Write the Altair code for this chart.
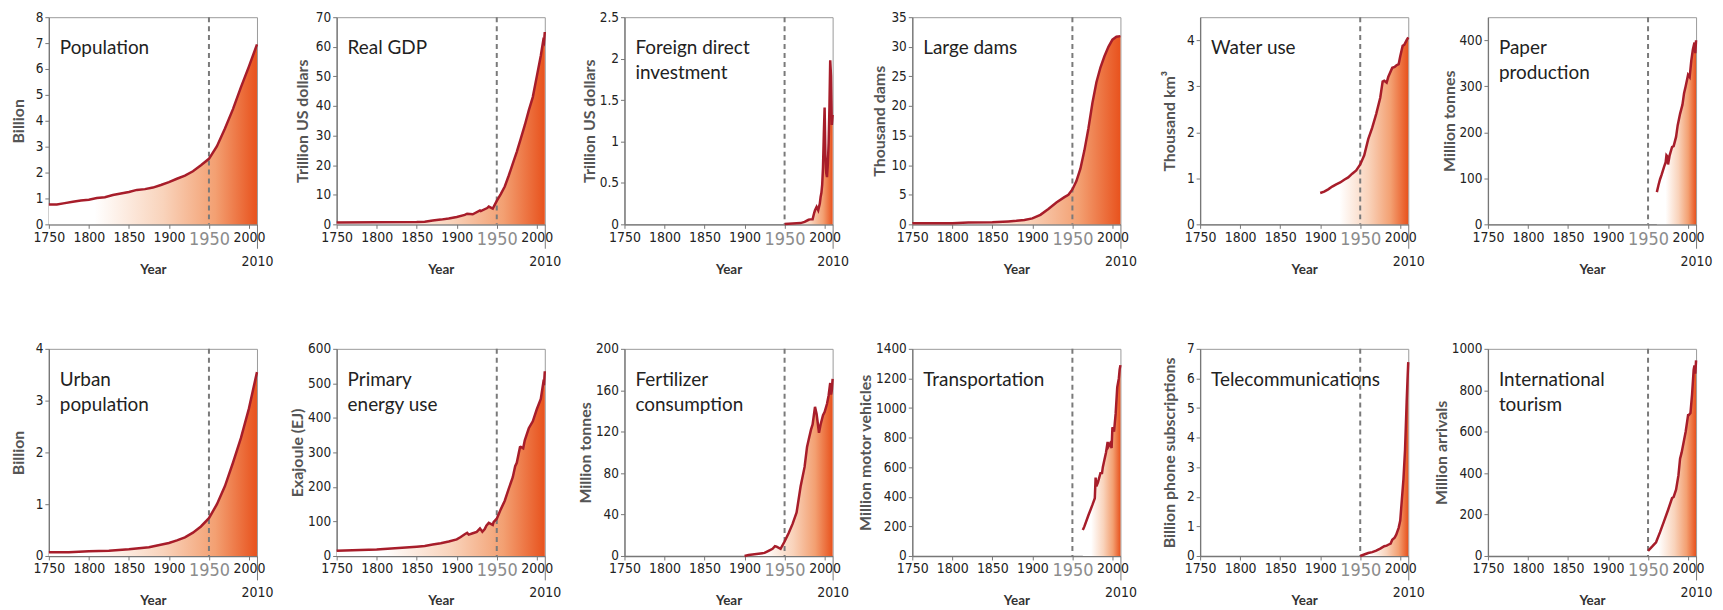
import altair as alt
import pandas as pd

# ---------------- data ----------------
titles = ["Population", "Real GDP", "Foreign direct\ninvestment", "Large dams", "Water use",
          "Paper\nproduction", "Urban\npopulation", "Primary\nenergy use", "Fertilizer\nconsumption",
          "Transportation", "Telecommunications", "International\ntourism"]
y_titles = ["Billion", "Trillion US dollars", "Trillion US dollars", "Thousand dams", "Thousand km³",
            "Million tonnes", "Billion", "Exajoule (EJ)", "Million tonnes", "Million motor vehicles",
            "Billion phone subscriptions", "Million arrivals"]
y_max = [8, 70, 2.5, 35, 4.5, 450, 4, 600, 200, 1400, 7, 1000]
y_ticks = [
    [0, 1, 2, 3, 4, 5, 6, 7, 8],
    [0, 10, 20, 30, 40, 50, 60, 70],
    [0, 0.5, 1, 1.5, 2, 2.5],
    [0, 5, 10, 15, 20, 25, 30, 35],
    [0, 1, 2, 3, 4],
    [0, 100, 200, 300, 400],
    [0, 1, 2, 3, 4],
    [0, 100, 200, 300, 400, 500, 600],
    [0, 40, 80, 120, 160, 200],
    [0, 200, 400, 600, 800, 1000, 1200, 1400],
    [0, 1, 2, 3, 4, 5, 6, 7],
    [0, 200, 400, 600, 800, 1000],
]
x_ticks = [1750, 1800, 1850, 1900, 1950, 2000, 2010]

pop_years = [1750, 1760, 1770, 1780, 1790, 1800, 1810, 1820, 1830, 1840, 1850, 1860, 1870, 1880,
             1890, 1900, 1910, 1920, 1930, 1940, 1950, 1960, 1970, 1980, 1990, 2000, 2010]
pop_values = [0.77, 0.77, 0.82, 0.87, 0.92, 0.95, 1.02, 1.05, 1.13, 1.19, 1.25, 1.33, 1.36, 1.42,
              1.52, 1.63, 1.76, 1.88, 2.05, 2.28, 2.53, 3.02, 3.70, 4.45, 5.30, 6.10, 6.95]

gdp_years = [1750, 1800, 1850, 1860, 1870, 1880, 1890, 1900, 1910, 1913, 1920, 1929, 1930, 1938,
             1940, 1945, 1950, 1955, 1960, 1965, 1970, 1975, 1980, 1985, 1990, 1995, 2000, 2005,
             2008, 2009, 2010]
gdp_values = [0.6, 0.7, 0.8, 0.9, 1.3, 1.6, 2.0, 2.5, 3.2, 3.6, 3.4, 4.7, 4.5, 5.5, 6.0, 5.3, 7.9,
              10.2, 12.8, 16.5, 20.5, 24.5, 29.0, 33.5, 38.5, 43.0, 50.0, 57.0, 62.0, 61.5, 65.0]

fdi_years = [1950, 1955, 1960, 1965, 1970, 1975, 1980, 1982, 1985, 1987, 1988, 1990, 1992, 1994,
             1995, 1996, 1997, 1998, 1999, 2000, 2001, 2002, 2003, 2004, 2005, 2006, 2007, 2008,
             2009, 2010]
fdi_values = [0.005, 0.008, 0.01, 0.012, 0.015, 0.03, 0.055, 0.06, 0.06, 0.14, 0.17, 0.21, 0.17,
              0.25, 0.33, 0.38, 0.48, 0.69, 1.08, 1.41, 0.83, 0.62, 0.57, 0.72, 0.98, 1.40, 1.98,
              1.79, 1.20, 1.32]

dam_years = [1750, 1800, 1820, 1850, 1870, 1880, 1890, 1900, 1910, 1920, 1930, 1940, 1945, 1950,
             1955, 1960, 1965, 1970, 1975, 1980, 1985, 1990, 1995, 2000, 2005, 2010]
dam_values = [0.2, 0.2, 0.3, 0.35, 0.5, 0.6, 0.75, 1.0, 1.6, 2.6, 3.7, 4.6, 5.0, 5.9, 7.3, 9.4,
              12.5, 16.2, 20.5, 24.0, 26.5, 28.4, 30.0, 31.2, 31.7, 31.8]

water_years = [1900, 1905, 1910, 1915, 1920, 1925, 1930, 1935, 1940, 1945, 1950, 1955, 1960, 1965,
               1970, 1975, 1978, 1980, 1983, 1985, 1990, 1993, 1995, 1998, 2000, 2003, 2005, 2008,
               2010]
water_values = [0.68, 0.71, 0.76, 0.82, 0.87, 0.91, 0.97, 1.02, 1.10, 1.17, 1.30, 1.50, 1.85,
                2.10, 2.40, 2.75, 3.10, 3.12, 3.08, 3.20, 3.40, 3.42, 3.45, 3.48, 3.65, 3.88,
                3.90, 4.00, 4.06]

paper_years = [1961, 1963, 1965, 1967, 1970, 1972, 1973, 1974, 1975, 1977, 1980, 1982, 1985, 1987,
               1990, 1993, 1995, 1997, 2000, 2002, 2004, 2006, 2008, 2009, 2010]
paper_values = [70, 85, 98, 108, 125, 135, 150, 148, 130, 150, 168, 170, 190, 215, 240, 260, 285,
                300, 325, 320, 355, 380, 395, 372, 400]

urban_years = [1750, 1775, 1800, 1825, 1850, 1875, 1900, 1910, 1920, 1930, 1940, 1950, 1960, 1970,
               1980, 1990, 2000, 2010]
urban_values = [0.07, 0.07, 0.09, 0.10, 0.13, 0.17, 0.25, 0.30, 0.36, 0.45, 0.57, 0.73, 1.00, 1.35,
                1.80, 2.28, 2.85, 3.55]

energy_years = [1750, 1800, 1850, 1860, 1870, 1880, 1890, 1900, 1905, 1910, 1913, 1915, 1920, 1925,
                1929, 1932, 1935, 1937, 1940, 1945, 1946, 1950, 1955, 1960, 1965, 1970, 1973, 1975,
                1979, 1980, 1983, 1985, 1990, 1995, 2000, 2005, 2008, 2009, 2010]
energy_values = [15, 19, 27, 29, 33, 37, 42, 48, 55, 63, 67, 62, 66, 70, 80, 70, 78, 88, 96, 90,
                 98, 108, 135, 160, 195, 228, 260, 270, 315, 316, 312, 335, 370, 390, 425, 455,
                 500, 495, 535]

fert_years = [1900, 1905, 1910, 1915, 1920, 1925, 1930, 1935, 1938, 1940, 1945, 1950, 1955, 1960,
              1965, 1970, 1975, 1978, 1980, 1983, 1985, 1988, 1990, 1993, 1995, 1998, 2000, 2003,
              2005, 2007, 2008, 2009, 2010]
fert_values = [0, 1, 1.5, 2, 2.5, 3, 5, 7, 9.5, 9, 7, 14, 22, 31, 42, 67, 86, 105, 112, 122, 127,
               144, 137, 119, 127, 136, 139, 147, 155, 167, 156, 160, 171]

trans_years = [1963, 1965, 1970, 1975, 1978, 1979, 1980, 1982, 1985, 1987, 1988, 1990, 1992, 1994,
               1995, 1997, 1999, 2000, 2002, 2004, 2006, 2008, 2009, 2010]
trans_values = [175, 200, 275, 345, 390, 530, 470, 500, 560, 560, 600, 650, 700, 770, 740, 760,
                730, 870, 840, 960, 1140, 1200, 1260, 1290]

tele_years = [1950, 1955, 1960, 1965, 1970, 1975, 1980, 1983, 1985, 1988, 1990, 1993, 1995, 1998,
              2000, 2002, 2004, 2006, 2008, 2009, 2010]
tele_values = [0, 0.05, 0.1, 0.13, 0.18, 0.25, 0.33, 0.35, 0.38, 0.42, 0.55, 0.62, 0.72, 0.95,
               1.2, 1.9, 2.6, 3.6, 5.2, 5.9, 6.55]

tour_years = [1950, 1955, 1960, 1965, 1970, 1975, 1980, 1982, 1985, 1988, 1990, 1992, 1995, 1997,
              2000, 2001, 2003, 2005, 2007, 2008, 2009, 2010]
tour_values = [25, 45, 66, 115, 168, 222, 280, 285, 320, 390, 470, 500, 560, 600, 680, 680, 690,
               780, 900, 920, 880, 944]

series = [
    (pop_years, pop_values), (gdp_years, gdp_values), (fdi_years, fdi_values),
    (dam_years, dam_values), (water_years, water_values), (paper_years, paper_values),
    (urban_years, urban_values), (energy_years, energy_values), (fert_years, fert_values),
    (trans_years, trans_values), (tele_years, tele_values), (tour_years, tour_values),
]
y_title_offset = [-30, -34, -35, -33, -31, -39, -30, -39, -39, -47, -31, -47]

# ---------------- style ----------------
NARROW = "DejaVu Sans Condensed, sans-serif"
TITLE_FONT = "Lato"
W, H = 209, 208

gradient = alt.Gradient(
    gradient="linear", x1=0, x2=1, y1=0, y2=0,
    stops=[
        alt.GradientStop(color="#ffffff", offset=0),
        alt.GradientStop(color="#ffffff", offset=0.22),
        alt.GradientStop(color="#f9d3bb", offset=0.55),
        alt.GradientStop(color="#f3a072", offset=0.8),
        alt.GradientStop(color="#e8521d", offset=1),
    ],
)


def cond(test, a, b):
    return {"condition": {"test": test, "value": a}, "value": b}


x_axis = alt.Axis(
    values=x_ticks, format="d", title="Year",
    titleFont=TITLE_FONT, titleFontWeight="bold", titleFontSize=13.5, titleColor="#333333",
    titleY=45, titleBaseline="middle",
    labelFont=NARROW,
    labelFontSize=cond("datum.value == 1950", 18, 14),
    labelColor=cond("datum.value == 1950", "#8c8c8c", "#222222"),
    labelPadding=cond("datum.value == 2010", 6, 2),
    tickSize=cond("datum.value == 2010", 24, 4),
    labelFlush=False, labelOverlap=False,
)


def panel(i):
    years, values = series[i]
    df = pd.DataFrame({"Year": years, "Value": values})
    x = alt.X("Year:Q", scale=alt.Scale(domain=[1750, 2010], nice=False, zero=False), axis=x_axis)
    y = alt.Y(
        "Value:Q",
        scale=alt.Scale(domain=[0, y_max[i]], nice=False),
        axis=alt.Axis(values=y_ticks[i], format="~r", title=y_titles[i],
                      titleX=y_title_offset[i], titleBaseline="middle",
                      labelPadding=2, tickSize=4, labelOverlap=False, labelFlush=False),
    )
    base = alt.Chart(df)
    area = base.mark_area(color=gradient, opacity=1).encode(x=x, y=y)
    line = base.mark_line(color="#a71d2a", strokeWidth=2.5).encode(x=x, y=y)
    rule = alt.Chart(pd.DataFrame({"Year": [1950]})).mark_rule(
        color="#7a7a7a", strokeDash=[5, 4], strokeWidth=2
    ).encode(x=x)
    label = alt.Chart(pd.DataFrame({"t": [titles[i]]})).mark_text(
        align="left", baseline="alphabetic", font=TITLE_FONT, fontSize=19, lineBreak="\n",
        lineHeight=25, color="#222222"
    ).encode(x=alt.value(11), y=alt.value(37), text="t:N")
    return alt.layer(area, label, rule, line).properties(width=W, height=H)


panels = [panel(i) for i in range(12)]

chart = alt.concat(
    *panels, columns=6, spacing={"row": 125, "column": 80}, bounds="flush"
).properties(
    padding={"left": 2, "top": 0, "right": 2, "bottom": 0}
).configure_axis(
    labelFont=NARROW, labelFontSize=13.5, labelColor="#222222",
    titleFont=TITLE_FONT, titleFontSize=16, titleFontWeight="bold", titleColor="#555555",
    domainColor="#777777", tickColor="#777777", domainWidth=1.3, grid=False,
).configure_view(
    stroke="#9a9a9a", strokeWidth=1
)

chart.save("out.html", embed_options={"renderer": "svg", "actions": False})
